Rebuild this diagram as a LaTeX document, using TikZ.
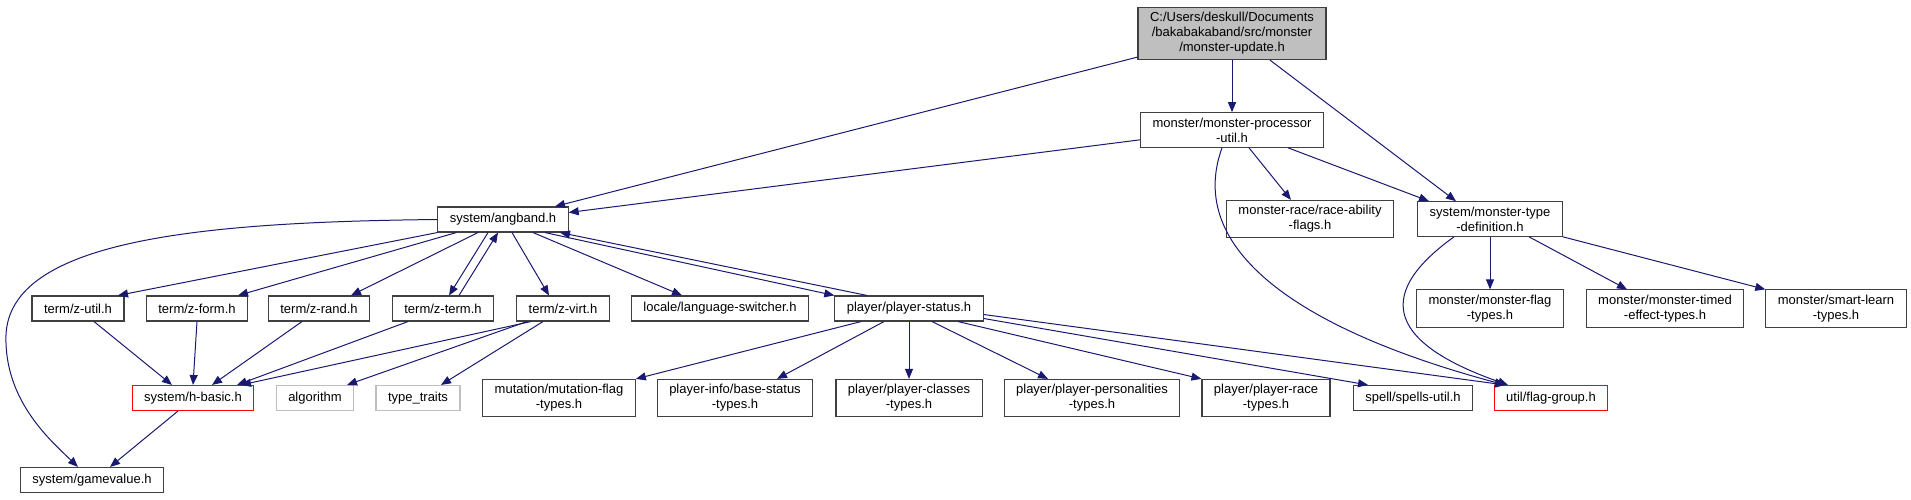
\documentclass[tikz,border=0pt]{standalone}
\usepackage{fontspec}
\setmainfont{Liberation Sans}
\usetikzlibrary{arrows.meta}
\definecolor{edgeblue}{HTML}{191970}
\definecolor{boxline}{HTML}{404040}
\definecolor{lightline}{HTML}{BFBFBF}
\definecolor{topfill}{HTML}{BFBFBF}
\begin{document}
\begin{tikzpicture}[x=1pt, y=-1pt,
  every node/.style={draw=boxline, line width=1.1pt, align=center, inner xsep=12pt, inner ysep=5pt, minimum height=25pt, font=\fontsize{13}{15}\selectfont},
  dep/.style={-{Triangle[length=10pt,width=8pt]}, draw=edgeblue, line width=1pt},
  redbox/.style={draw=red},
  extbox/.style={draw=lightline}]
\useasboundingbox (0,0) rectangle (1911,499);
\node[fill=topfill] (top) at (1232,33.5) {C:/Users/deskull/Documents\\/bakabakaband/src/monster\\/monster-update.h};
\node (proc) at (1232,130) {monster/monster-processor\\-util.h};
\node (ang) at (503,219.5) {system/angband.h};
\node (race) at (1310,219) {monster-race/race-ability\\-flags.h};
\node (mtd) at (1490,219) {system/monster-type\\-definition.h};
\node (zutil) at (78,308.5) {term/z-util.h};
\node (zform) at (197,308.5) {term/z-form.h};
\node (zrand) at (319,308.5) {term/z-rand.h};
\node (zterm) at (443,308.5) {term/z-term.h};
\node (zvirt) at (563,308.5) {term/z-virt.h};
\node (lang) at (720,308.5) {locale/language-switcher.h};
\node (pstat) at (909,308.5) {player/player-status.h};
\node (mflag) at (1490,308.5) {monster/monster-flag\\-types.h};
\node (mtimed) at (1665,308.5) {monster/monster-timed\\-effect-types.h};
\node (smart) at (1836,308.5) {monster/smart-learn\\-types.h};
\node[redbox] (hbasic) at (193,398) {system/h-basic.h};
\node[extbox] (algo) at (315,398) {algorithm};
\node[extbox] (ttraits) at (418,398) {type\_traits};
\node (mut) at (559,398) {mutation/mutation-flag\\-types.h};
\node (bstat) at (735,398) {player-info/base-status\\-types.h};
\node (pclass) at (909,398) {player/player-classes\\-types.h};
\node (ppers) at (1092,398) {player/player-personalities\\-types.h};
\node (prace) at (1266,398) {player/player-race\\-types.h};
\node (spells) at (1413,398) {spell/spells-util.h};
\node[redbox] (flag) at (1551,398) {util/flag-group.h};
\node (gval) at (92,480) {system/gamevalue.h};
\draw[dep] ([yshift=3pt]top.south west) -- ([xshift=52pt]ang.north);
\draw[dep] (top.south) -- (proc.north);
\draw[dep] ([xshift=38pt]top.south) -- ([xshift=-34pt]mtd.north);
\draw[dep] ([yshift=8pt]proc.south west) -- ([yshift=7pt]ang.east);
\draw[dep] ([xshift=17pt]proc.south) -- ([xshift=-19pt]race.north);
\draw[dep] ([xshift=56pt]proc.south) -- ([xshift=-61pt]mtd.north);
\draw[dep] ([xshift=-10pt]proc.south) .. controls (1185,250) and (1300,330) .. ([xshift=-46pt]flag.north);
\draw[dep] ([xshift=-36pt]mtd.south) .. controls (1380,290) and (1380,340) .. ([xshift=-43pt]flag.north);
\draw[dep] (mtd.south) -- (mflag.north);
\draw[dep] ([xshift=39pt]mtd.south) -- ([xshift=-38pt]mtimed.north);
\draw[dep] (mtd.south east) -- (smart.north west);
\draw[dep] (ang.west) .. controls (200,222) and (10,240) .. (6,335) .. controls (4,400) and (50,440) .. ([xshift=-14pt]gval.north);
\draw[dep] (ang.south west) -- ([xshift=40pt]zutil.north);
\draw[dep] ([xshift=19pt]ang.south west) -- ([xshift=41pt]zform.north);
\draw[dep] ([xshift=-25pt]ang.south) -- ([xshift=32pt]zrand.north);
\draw[dep] ([xshift=-15pt]ang.south) -- ([xshift=6pt]zterm.north);
\draw[dep] ([xshift=16pt]zterm.north) -- ([xshift=-5pt]ang.south);
\draw[dep] ([xshift=9pt]ang.south) -- ([xshift=-14pt]zvirt.north);
\draw[dep] ([xshift=30pt]ang.south) -- ([xshift=-38pt]lang.north);
\draw[dep] ([xshift=42pt]ang.south) -- (pstat.north west);
\draw[dep] ([xshift=-42pt]pstat.north) -- ([xshift=57pt]ang.south);
\draw[dep] ([xshift=16pt]zutil.south) -- ([xshift=-21pt]hbasic.north);
\draw[dep] (zform.south) -- (hbasic.north);
\draw[dep] ([xshift=-17pt]zrand.south) -- ([xshift=19pt]hbasic.north);
\draw[dep] ([xshift=-35pt]zterm.south) -- ([xshift=44pt]hbasic.north);
\draw[dep] ([xshift=-32pt]zvirt.south) -- ([xshift=48pt]hbasic.north);
\draw[dep] ([xshift=-36pt]zvirt.south) -- ([xshift=32pt]algo.north);
\draw[dep] ([xshift=-20pt]zvirt.south) -- ([xshift=23pt]ttraits.north);
\draw[dep] ([xshift=-15pt]hbasic.south) -- ([xshift=18pt]gval.north);
\draw[dep] ([xshift=-48pt]pstat.south) -- (mut.north east);
\draw[dep] ([xshift=-25pt]pstat.south) -- ([xshift=42pt]bstat.north);
\draw[dep] (pstat.south) -- (pclass.north);
\draw[dep] ([xshift=23pt]pstat.south) -- ([xshift=-44pt]ppers.north);
\draw[dep] ([xshift=49pt]pstat.south) -- (prace.north west);
\draw[dep] ([yshift=-10pt]pstat.east) -- ([xshift=-45pt]spells.north);
\draw[dep] ([yshift=-6pt]pstat.east) -- ([xshift=-46pt]flag.north);
\end{tikzpicture}
\end{document}
